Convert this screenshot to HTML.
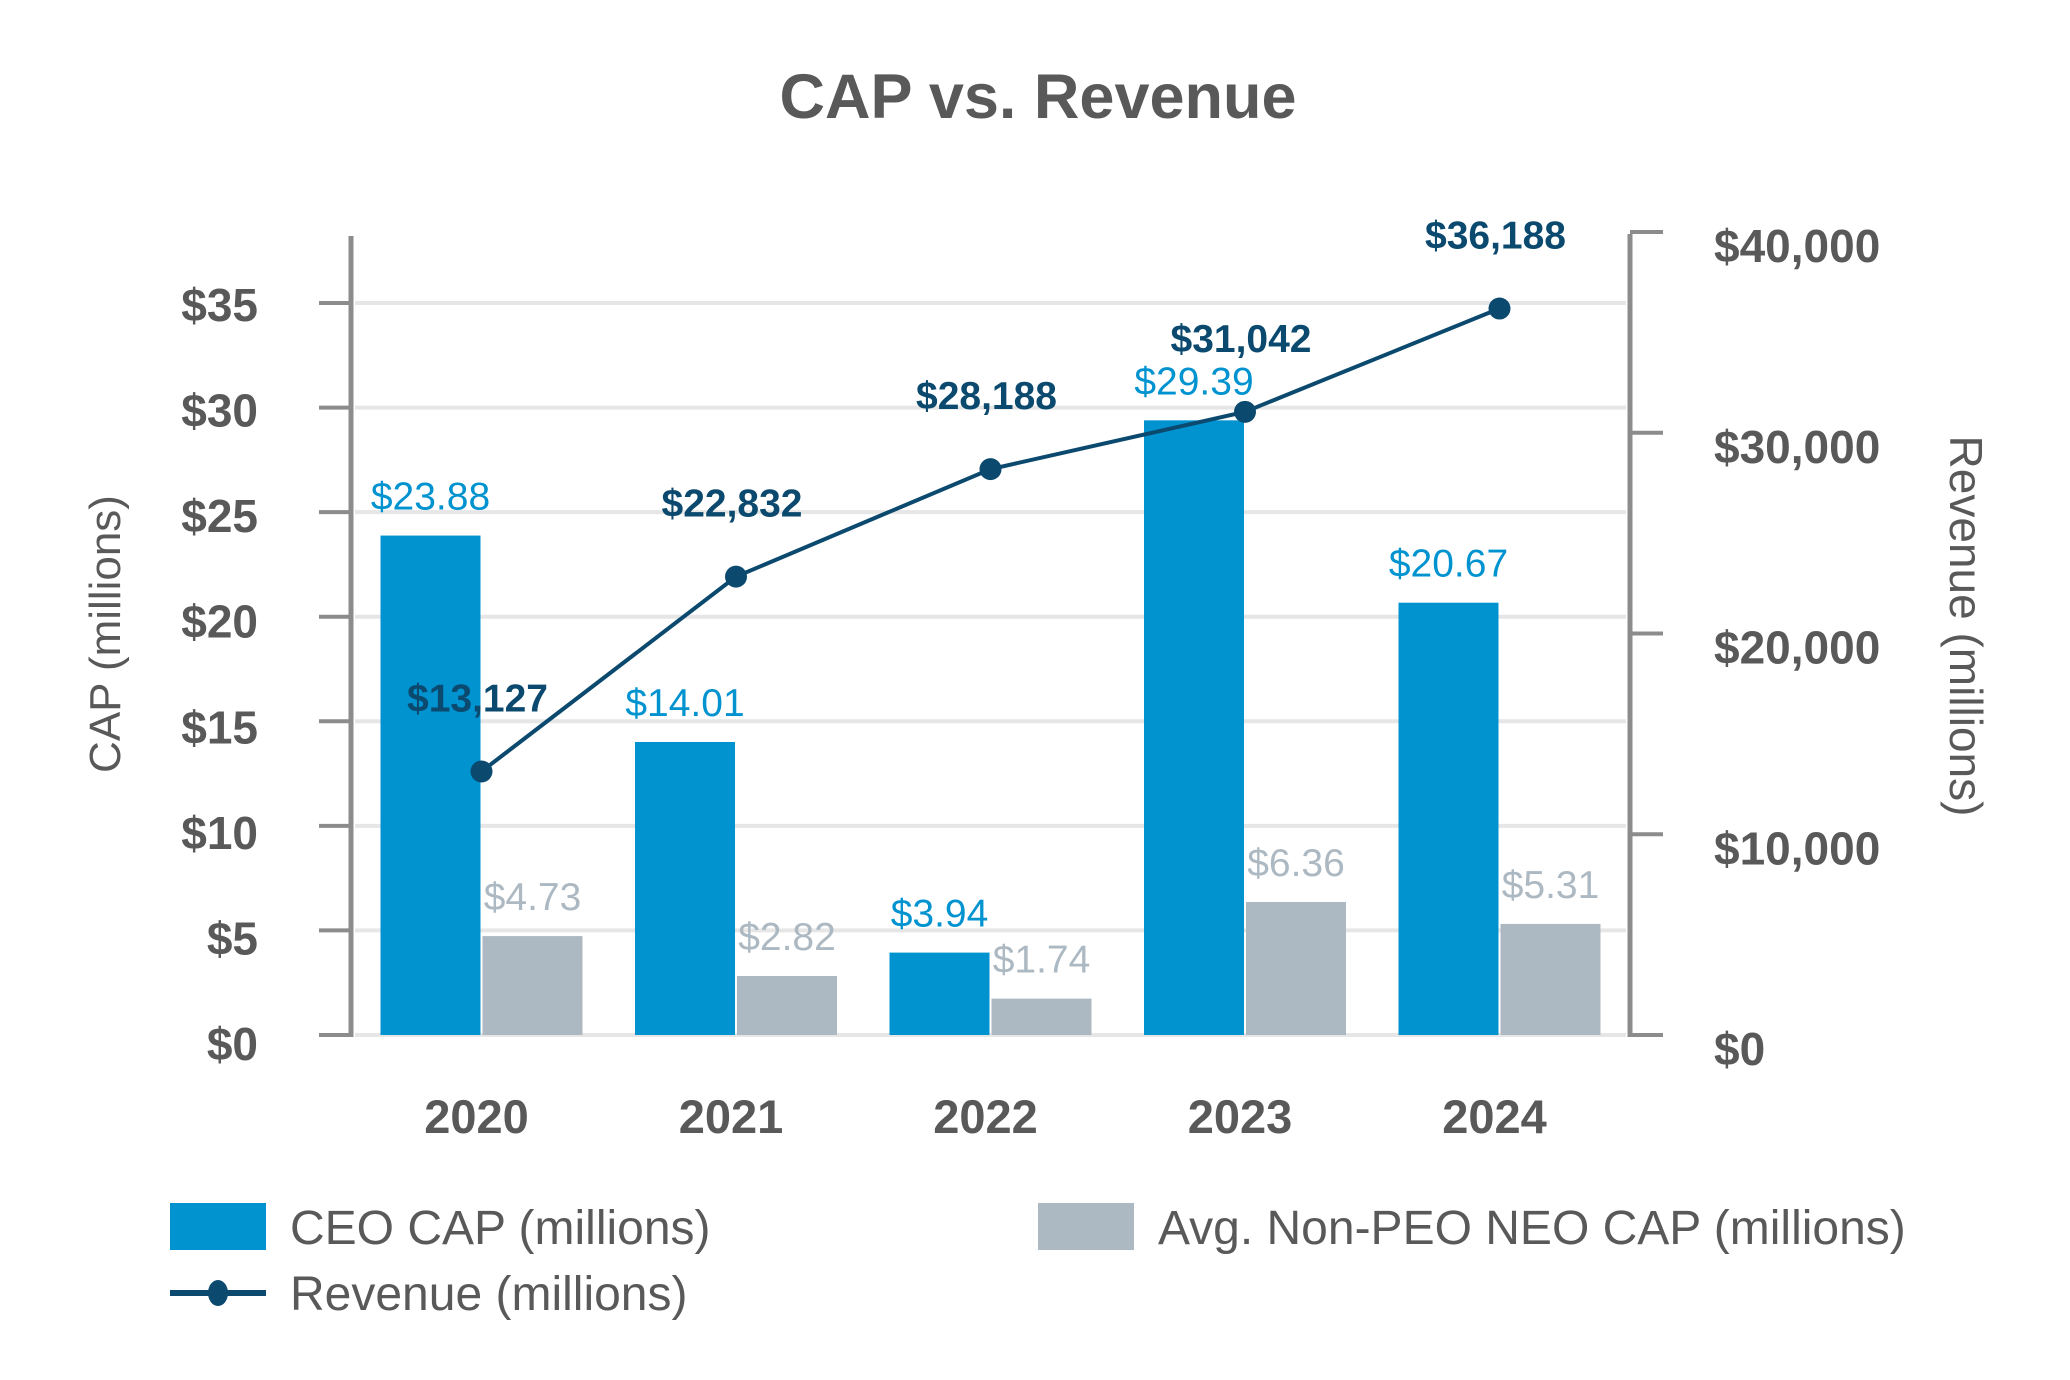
<!DOCTYPE html>
<html><head><meta charset="utf-8"><style>
html,body{margin:0;padding:0;background:#fff;}
svg{display:block;font-family:"Liberation Sans",Arial,sans-serif;}
</style></head><body>
<svg id="chart" width="2070" height="1380" viewBox="0 0 2070 1380">
<text x="1038" y="118" text-anchor="middle" font-size="63" font-weight="bold" fill="#595959">CAP vs. Revenue</text>
<g id="grid"></g>
<g id="bars"></g>
<g id="axes"></g>
<g id="line"></g>
<g id="labels"></g>
<text transform="translate(120,634) rotate(-90)" text-anchor="middle" font-size="44" fill="#595959">CAP (millions)</text>
<text transform="translate(1950,626) rotate(90)" text-anchor="middle" font-size="46" fill="#595959">Revenue (millions)</text>
<g>
<rect x="170" y="1203" width="96" height="47" fill="#0093d0"/>
<text x="290" y="1244" font-size="48" fill="#595959">CEO CAP (millions)</text>
<rect x="1038" y="1203" width="96" height="47" fill="#adb9c2"/>
<text x="1158" y="1244" font-size="48" fill="#595959">Avg. Non-PEO NEO CAP (millions)</text>
<line x1="170" y1="1293" x2="266" y2="1293" stroke="#0b4a6e" stroke-width="6"/>
<ellipse cx="218" cy="1293" rx="10" ry="13" fill="#0b4a6e"/>
<text x="290" y="1310" font-size="48" fill="#595959">Revenue (millions)</text>
</g>
</svg>
<script>
const years = ["2020","2021","2022","2023","2024"];
const ceoCap = [23.88, 14.01, 3.94, 29.39, 20.67];
const neoCap = [4.73, 2.82, 1.74, 6.36, 5.31];
const revenue = [13127, 22832, 28188, 31042, 36188];
const leftTicks = [0,5,10,15,20,25,30,35];
const rightTicks = [0,10000,20000,30000,40000];

const NS = "http://www.w3.org/2000/svg";
function mk(tag, attrs, parent){const e=document.createElementNS(NS,tag);for(const k in attrs)e.setAttribute(k,attrs[k]);parent.appendChild(e);return e;}
const y0 = 1035;
const yL = v => y0 - v * (1035 - 303) / 35;
const yR = v => y0 - v * (1035 - 232) / 40000;
const xC = i => 481.5 + i * 254.5;
const grid = document.getElementById('grid'), bars = document.getElementById('bars'),
 axes = document.getElementById('axes'), lineG = document.getElementById('line'), labels = document.getElementById('labels');

leftTicks.forEach(t => {
  const g = mk('line',{x1:355,x2:1626,y1:yL(t),y2:yL(t),stroke:'#e6e6e6','stroke-width':4},grid);
  
  
  const tk = mk('line',{x1:319,x2:351,y1:yL(t),y2:yL(t),stroke:'#8c8c8c','stroke-width':4},axes);
  
  
  const tx = mk('text',{x:258,y:yL(t)+18+ (35-t)*0.2,'text-anchor':'end','font-size':46,'font-weight':'bold',fill:'#595959'},axes);
  tx.textContent = '$' + t;
  
  
});
rightTicks.forEach(t => {
  const tk = mk('line',{x1:1630,x2:1663,y1:yR(t),y2:yR(t),stroke:'#8c8c8c','stroke-width':4},axes);
  
  
  const tx = mk('text',{x:1714,y:yR(t)+30,'font-size':46,'font-weight':'bold',fill:'#595959'},axes);
  tx.textContent = '$' + t.toLocaleString('en-US');
  
  
});
let a = mk('line',{x1:351,x2:351,y1:236,y2:1037,stroke:'#8c8c8c','stroke-width':5},axes);


a = mk('line',{x1:1630,x2:1630,y1:234,y2:1037,stroke:'#8c8c8c','stroke-width':5},axes);



years.forEach((yr,i) => {
  const c = xC(i);
  const b1 = mk('rect',{x:c-101,y:yL(ceoCap[i]),width:100,height:y0-yL(ceoCap[i]),fill:'#0093d0'},bars);
  
  
  const b2 = mk('rect',{x:c+1,y:yL(neoCap[i]),width:100,height:y0-yL(neoCap[i]),fill:'#adb9c2'},bars);
  
  
  const l1 = mk('text',{x:c-51,y:yL(ceoCap[i])-26,'text-anchor':'middle','font-size':39,fill:'#0093d0'},labels);
  l1.textContent = '$' + ceoCap[i].toFixed(2);
  
  
  const l2 = mk('text',{x:c+51,y:yL(neoCap[i])-26,'text-anchor':'middle','font-size':39,fill:'#adb9c2'},labels);
  l2.textContent = '$' + neoCap[i].toFixed(2);
  
  
  const xl = mk('text',{x:c-5,y:1133,'text-anchor':'middle','font-size':47,'font-weight':'bold',fill:'#595959'},axes);
  xl.textContent = yr;
  
  
});
const pts = revenue.map((v,i)=>xC(i)+','+yR(v)).join(' ');
const pl = mk('polyline',{points:pts,fill:'none',stroke:'#0b4a6e','stroke-width':4},lineG);


revenue.forEach((v,i)=>{
  const d = mk('circle',{cx:xC(i),cy:yR(v),r:11,fill:'#0b4a6e'},lineG);
  
  
  const t = mk('text',{x:xC(i)-4,y:yR(v)-60,'text-anchor':'middle','font-size':39,'font-weight':'bold',fill:'#0b4a6e'},labels);
  t.textContent = '$' + v.toLocaleString('en-US');
  
  
});
</script>
</body></html>
